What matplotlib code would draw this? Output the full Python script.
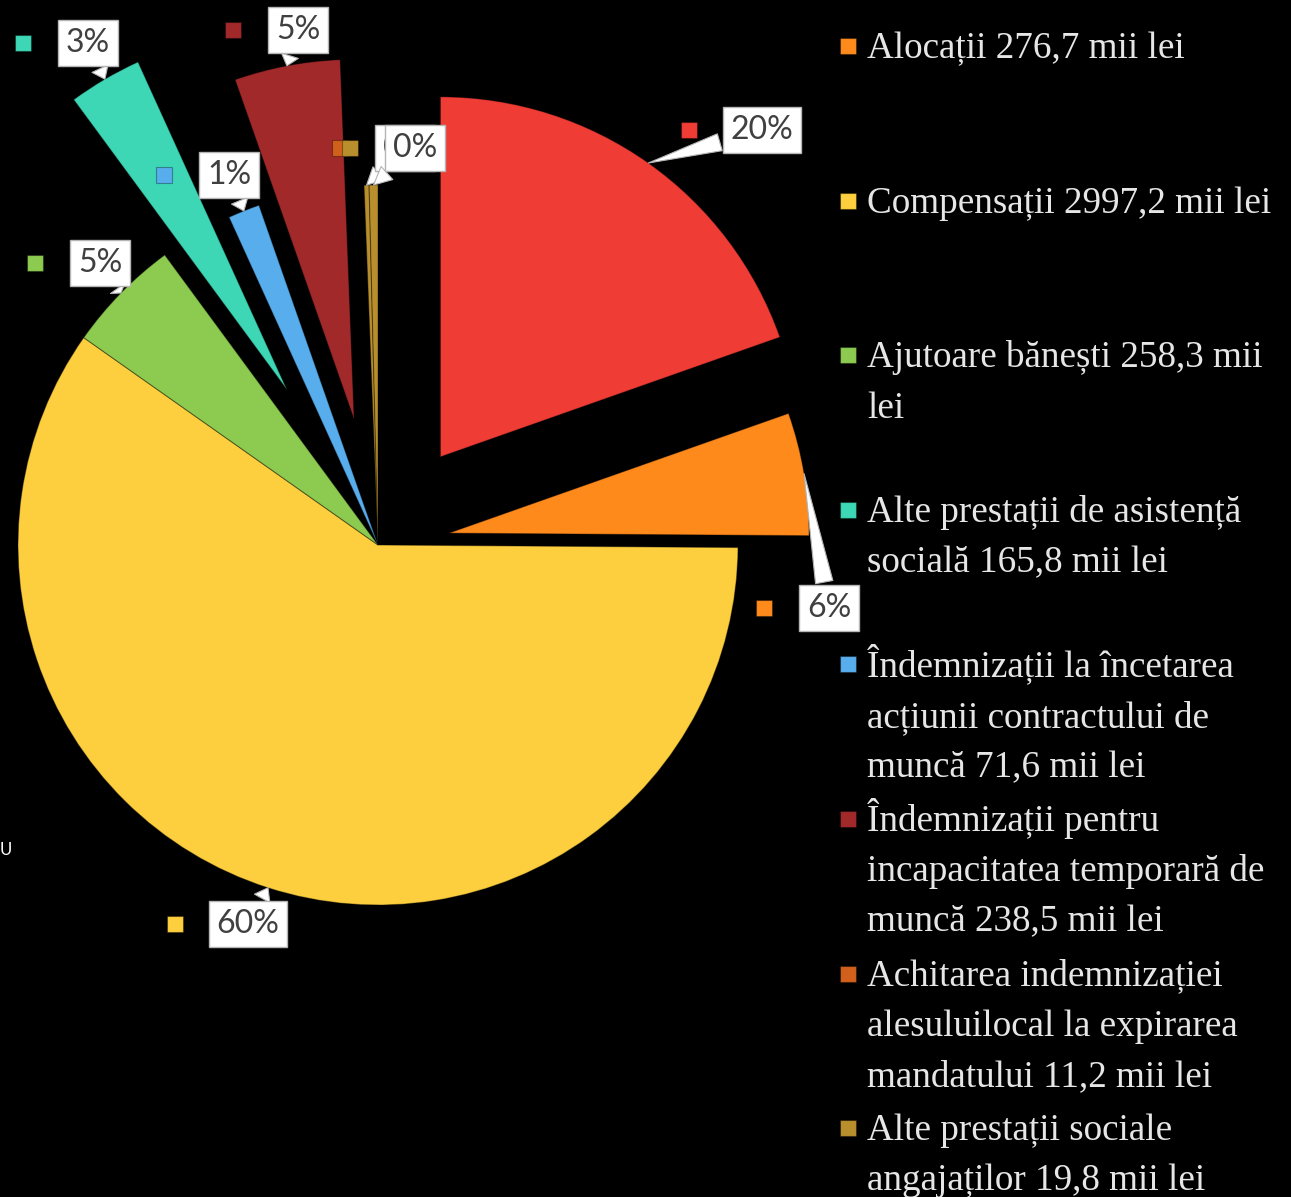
import numpy as np
import matplotlib
matplotlib.use("Agg")
import matplotlib.pyplot as plt

W, H = 1291, 1197

# data (first slice: category whose legend entry is cut off above the picture)
values = [985.0, 276.7, 2997.2, 258.3, 165.8, 71.6, 238.5, 11.2, 19.8]
legend_labels = [
    "Alocații 276,7 mii lei",
    "Compensații 2997,2 mii lei",
    "Ajutoare bănești 258,3 mii\nlei",
    "Alte prestații de asistență\nsocială 165,8 mii lei",
    "Îndemnizații la încetarea\nacțiunii contractului de\nmuncă 71,6 mii lei",
    "Îndemnizații pentru\nincapacitatea temporară de\nmuncă 238,5 mii lei",
    "Achitarea indemnizației\nalesuluilocal la expirarea\nmandatului 11,2 mii lei",
    "Alte prestații sociale\nangajaților 19,8 mii lei",
]
colors = ["#EF3C35", "#FF8A1C", "#FDCF3E", "#8CCA50", "#3DD7B6",
          "#58ADED", "#A2292A", "#B88F2C", "#B88F2C"]
explode = [0.30, 0.20, 0.0, 0.0, 0.50, 0.0, 0.355, 0.0, 0.0]
key_colors = ["#EF3C35", "#FF8A1C", "#FDCF3E", "#8CCA50", "#3DD7B6",
              "#58ADED", "#A2292A", "#D0601B", "#B88F2C"]

# label box centres (image pixel coords, y down)
label_xy = [(762, 130), (829, 608), (248, 924), (100, 263), (88, 43),
            (229, 175), (298, 30), (405, 148), (415, 148)]

cx, cy, R = 378, H - 545, 360

fig = plt.figure(figsize=(W / 100, H / 100), dpi=100, facecolor="black")
ax = fig.add_axes([0, 0, 1, 1])
ax.set_facecolor("black")

wedges, _ = ax.pie(values, colors=colors, startangle=90, counterclock=False,
                   explode=[e * R for e in explode], center=(cx, cy), radius=R,
                   wedgeprops=dict(edgecolor=(0, 0, 0, 0.35), linewidth=0.8))
ax.set_xlim(0, W)
ax.set_ylim(0, H)
ax.axis("off")

total = sum(values)
for i, w in enumerate(wedges):
    th = np.deg2rad((w.theta1 + w.theta2) / 2)
    tx = w.center[0] + w.r * np.cos(th)
    ty = w.center[1] + w.r * np.sin(th)
    lx, ly = label_xy[i]
    txt = f"{round(100 * values[i] / total)}%"
    ax.annotate(txt, xy=(tx, ty), xytext=(lx, H - ly), ha="center", va="center",
                fontsize=23, family="Lato", color="#404040", zorder=5 + i,
                bbox=dict(boxstyle="square,pad=0.24", fc="white", ec="#b5b5b5", lw=1),
                arrowprops=dict(arrowstyle="wedge,tail_width=0.55,shrink_factor=0.5",
                                fc="white", ec="#b5b5b5", lw=0.8, shrinkB=0))
    half = 38 if len(txt) > 2 else 30
    ax.plot(lx - half - 35, H - ly, marker="s", ms=11, color=key_colors[i],
            mec="#00000055", mew=0.8, zorder=4)

# legend on the right
for i, lab in enumerate(legend_labels):
    y0 = 46 + i * 154.6
    ax.plot(848, H - y0, marker="s", ms=11, color=key_colors[i + 1],
            mec="#00000055", mew=0.8)
    for k, line in enumerate(lab.split("\n")):
        ax.text(867, H - (58 + i * 154.6 + k * 50.3), line, fontsize=26.7,
                family="Liberation Serif", color="#e6e6e6", va="baseline", ha="left")

# text fragment at left edge
ax.text(0, H - 850, "U", fontsize=12, family="Lato", color="white",
        va="center", ha="left")

fig.savefig("out.png", dpi=100, facecolor="black")
